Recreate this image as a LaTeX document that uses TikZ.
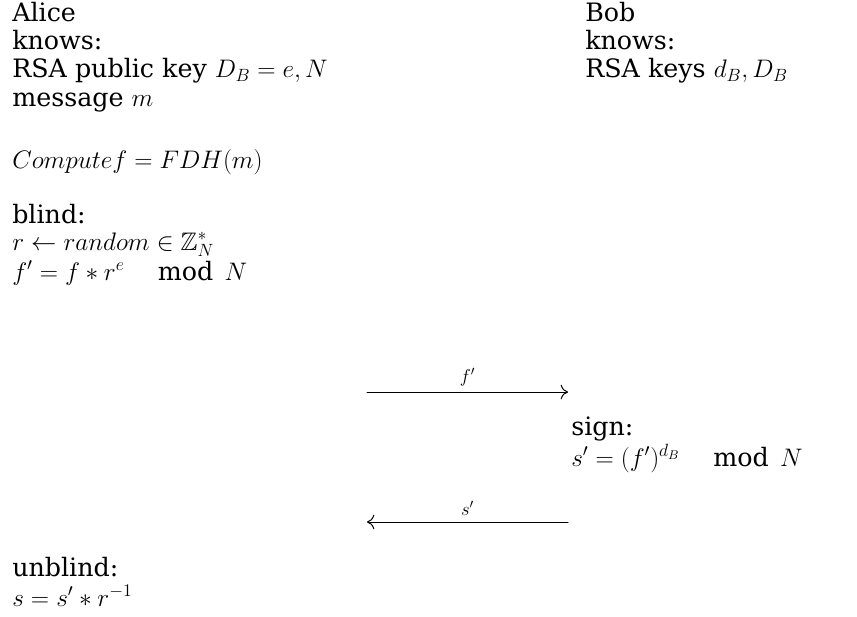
\RequirePackage{fix-cm}
\documentclass[tikz,border=0pt]{standalone}
\usepackage{amsmath,amssymb}
\usepackage{fontspec}
\setmainfont{DejaVu Serif}
\usetikzlibrary{arrows.meta}
\begin{document}
\begin{tikzpicture}[x=0.75pt, y=-0.75pt, font=\fontsize{19}{22}\selectfont, line join=round, line cap=round,
	>={To[length=5.5pt,width=11pt]},
	txt/.style={anchor=base west, inner sep=0pt},
	msg/.style={->, line width=0.75pt},
	declare function={xa=12;xb=585;xs=571;}]
	\useasboundingbox (0,0) rectangle (857,617);
	% Alice
	\node[txt] (alice) at (xa,22) {Alice};
	\node[txt] (aknows) at (xa,50) {knows:};
	\node[txt] (apub) at (xa,78) {RSA public key $D_B = e, N$};
	\node[txt] (amsg) at (xa,107) {message $m$};
	\node[txt] (fdh) at (xa,168) {$Compute f = FDH(m)$};
	\node[txt] (blind) at (xa,223) {blind:};
	\node[txt] (rnd) at (xa,250) {$r \leftarrow random \in \mathbb{Z}_N^*$};
	\node[txt] (fprime) at (xa,280) {$f' = f * r^e \quad\ \text{mod}\;\, N$};
	% Bob
	\node[txt] (bob) at (xb,22) {Bob};
	\node[txt] (bknows) at (xb,50) {knows:};
	\node[txt] (bkeys) at (xb,78) {RSA keys $d_B, D_B$};
	\node[txt] (sign) at (xs,435) {sign:};
	\node[txt] (sprime) at (xs,466) {$s' = (f')^{d_B} \quad\ \text{mod}\;\, N$};
	% unblind
	\node[txt] (unblind) at (xa,576) {unblind:};
	\node[txt] (sig) at (xa,606) {$s = s' * r^{-1}$};
	% messages
	\coordinate (fa) at (367,392);
	\coordinate (fb) at (568,392);
	\coordinate (sa) at (568,522);
	\coordinate (sb) at (367,522);
	\draw[msg] (fa) -- (fb) node[pos=0.5, above=1pt] {\fontsize{14}{16}\selectfont$f'$};
	\draw[msg] (sa) -- (sb) node[pos=0.5, above=1pt] {\fontsize{14}{16}\selectfont$s'$};
\end{tikzpicture}
\end{document}
